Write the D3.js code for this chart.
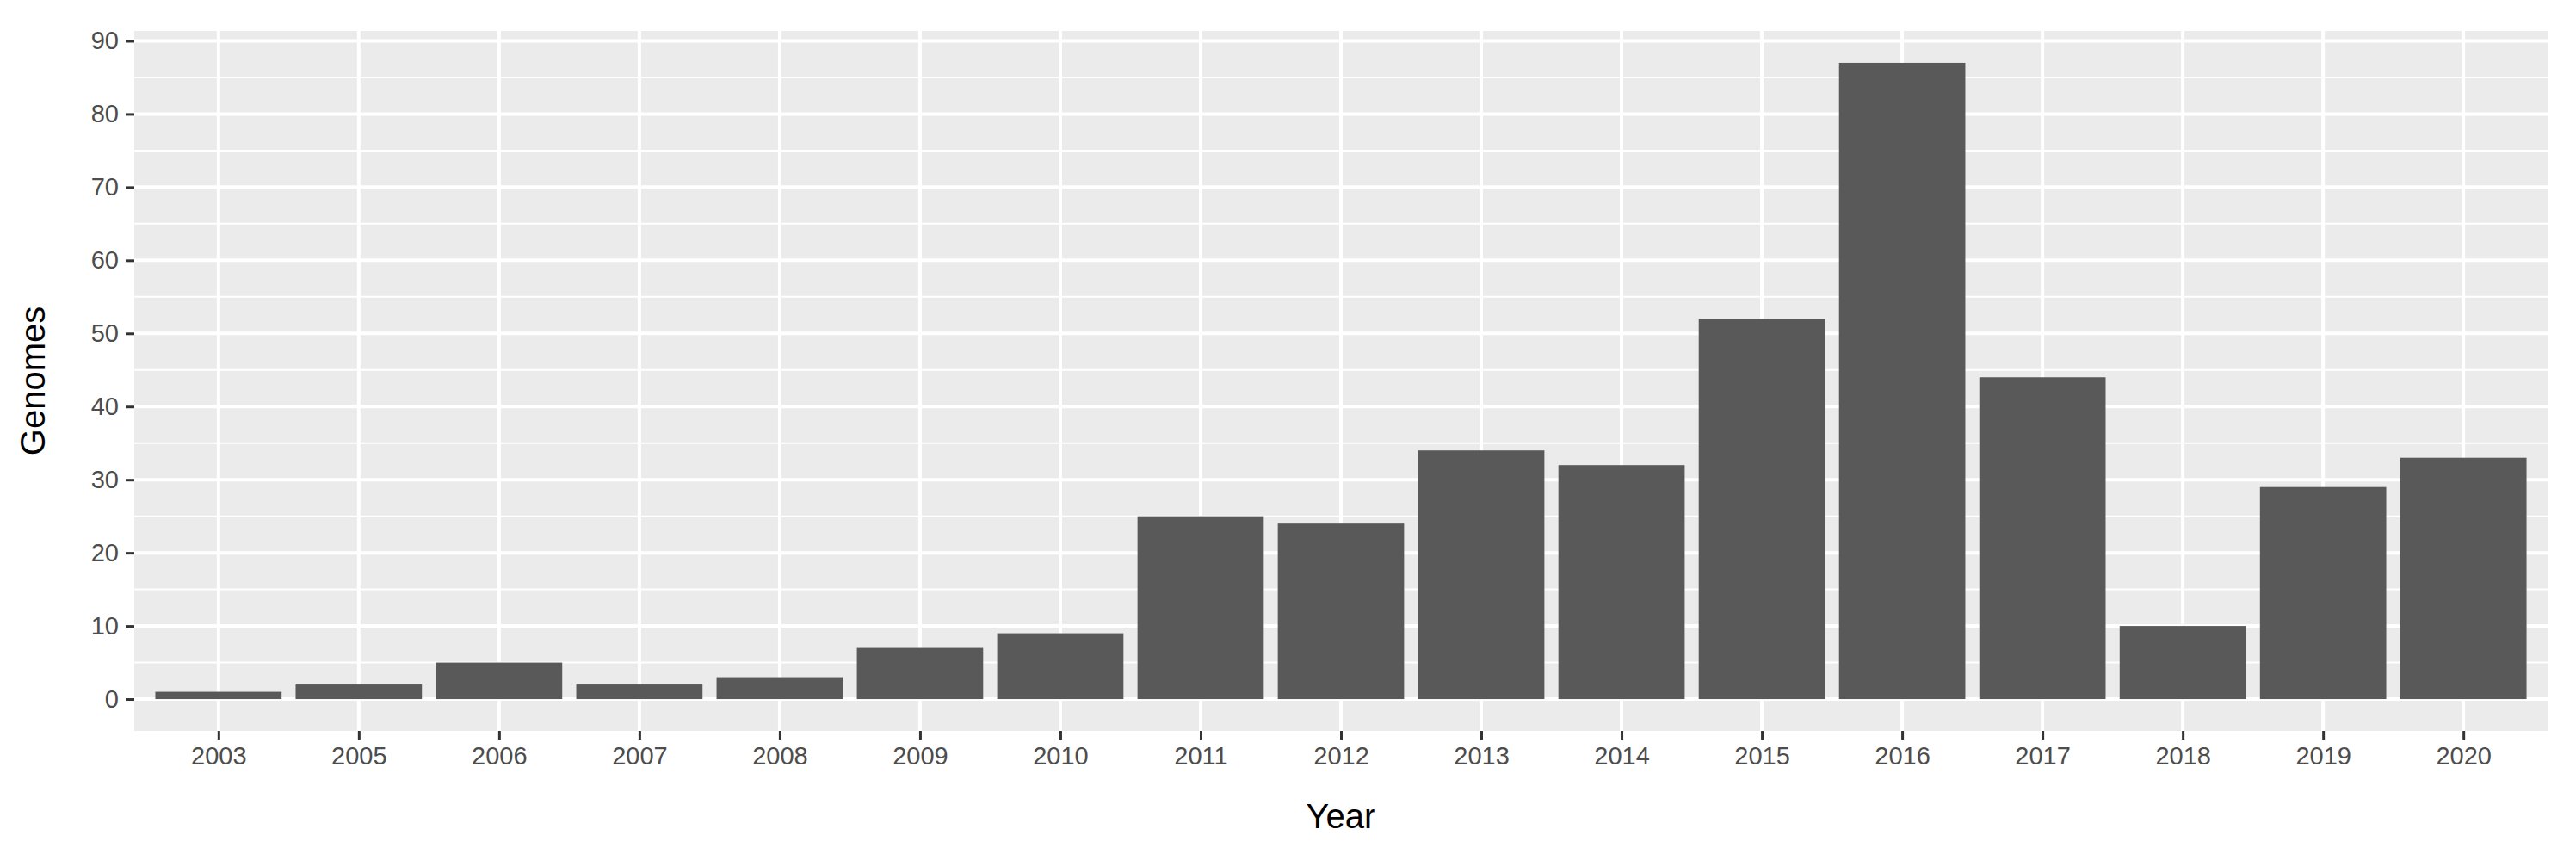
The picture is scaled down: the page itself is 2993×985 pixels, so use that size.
<!DOCTYPE html>
<html>
<head>
<meta charset="utf-8">
<script src="https://cdn.jsdelivr.net/npm/d3@7"></script>
<style>
  body { margin: 0; background: #fff; }
  text { font-family: "Liberation Sans", Arial, sans-serif; }
</style>
</head>
<body>
<div id="chart"></div>
<script>
const years = ['2003','2005','2006','2007','2008','2009','2010','2011','2012','2013','2014','2015','2016','2017','2018','2019','2020'];
const genomes = [1, 2, 5, 2, 3, 7, 9, 25, 24, 34, 32, 52, 87, 44, 10, 29, 33];
const yTicks = [0, 10, 20, 30, 40, 50, 60, 70, 80, 90];

const width = 2993, height = 985;
const margin = { top: 36, right: 33, bottom: 136, left: 156 };

const svg = d3.select('#chart')
  .append('svg')
  .attr('width', width)
  .attr('height', height);

// ggplot-style expansion: 0.6 units on x, 5% on y
const x = d3.scaleLinear()
  .domain([0.4, years.length + 0.6])
  .range([margin.left, width - margin.right]);

const maxV = d3.max(genomes);
const y = d3.scaleLinear()
  .domain([-maxV * 0.05, maxV * 1.05])
  .range([height - margin.bottom, margin.top]);

// panel
svg.append('rect')
  .attr('x', margin.left)
  .attr('y', margin.top)
  .attr('width', width - margin.left - margin.right)
  .attr('height', height - margin.top - margin.bottom)
  .attr('fill', '#ebebeb');

// minor grid
svg.append('g')
  .selectAll('line')
  .data(yTicks.map(t => t + 5).filter(t => y(t) > margin.top))
  .enter().append('line')
  .attr('x1', margin.left).attr('x2', width - margin.right)
  .attr('y1', d => y(d)).attr('y2', d => y(d))
  .attr('stroke', '#fff').attr('stroke-width', 2);

// major grid
svg.append('g')
  .selectAll('line')
  .data(yTicks)
  .enter().append('line')
  .attr('x1', margin.left).attr('x2', width - margin.right)
  .attr('y1', d => y(d)).attr('y2', d => y(d))
  .attr('stroke', '#fff').attr('stroke-width', 4);

svg.append('g')
  .selectAll('line')
  .data(years)
  .enter().append('line')
  .attr('x1', (d, i) => x(i + 1)).attr('x2', (d, i) => x(i + 1))
  .attr('y1', margin.top).attr('y2', height - margin.bottom)
  .attr('stroke', '#fff').attr('stroke-width', 4);

// bars
svg.append('g')
  .selectAll('rect')
  .data(genomes)
  .enter().append('rect')
  .attr('x', (d, i) => x(i + 1 - 0.45))
  .attr('width', (d, i) => x(i + 1 + 0.45) - x(i + 1 - 0.45))
  .attr('y', d => y(d))
  .attr('height', d => y(0) - y(d))
  .attr('fill', '#595959');

// y axis
const yAxis = svg.append('g')
  .attr('transform', `translate(${margin.left},0)`)
  .call(d3.axisLeft(y).tickValues(yTicks).tickSize(10).tickPadding(8));
yAxis.select('.domain').remove();
yAxis.selectAll('line').attr('stroke', '#333').attr('stroke-width', 3);
yAxis.selectAll('text').attr('font-size', 29).attr('fill', '#4d4d4d')
  .style('font-family', '"Liberation Sans", Arial, sans-serif');

// x axis
const xAxis = svg.append('g')
  .attr('transform', `translate(0,${height - margin.bottom})`)
  .call(d3.axisBottom(x).tickValues(d3.range(1, years.length + 1))
    .tickFormat(d => years[d - 1]).tickSize(10).tickPadding(8));
xAxis.select('.domain').remove();
xAxis.selectAll('line').attr('stroke', '#333').attr('stroke-width', 3);
xAxis.selectAll('text').attr('font-size', 29).attr('fill', '#4d4d4d')
  .style('font-family', '"Liberation Sans", Arial, sans-serif');

// axis titles
svg.append('text')
  .attr('x', (margin.left + width - margin.right) / 2)
  .attr('y', 962)
  .attr('text-anchor', 'middle')
  .attr('font-size', 40)
  .attr('fill', '#000')
  .text('Year');

svg.append('text')
  .attr('transform', `translate(52,${(margin.top + height - margin.bottom) / 2}) rotate(-90)`)
  .attr('text-anchor', 'middle')
  .attr('font-size', 40)
  .attr('fill', '#000')
  .text('Genomes');
</script>
</body>
</html>
